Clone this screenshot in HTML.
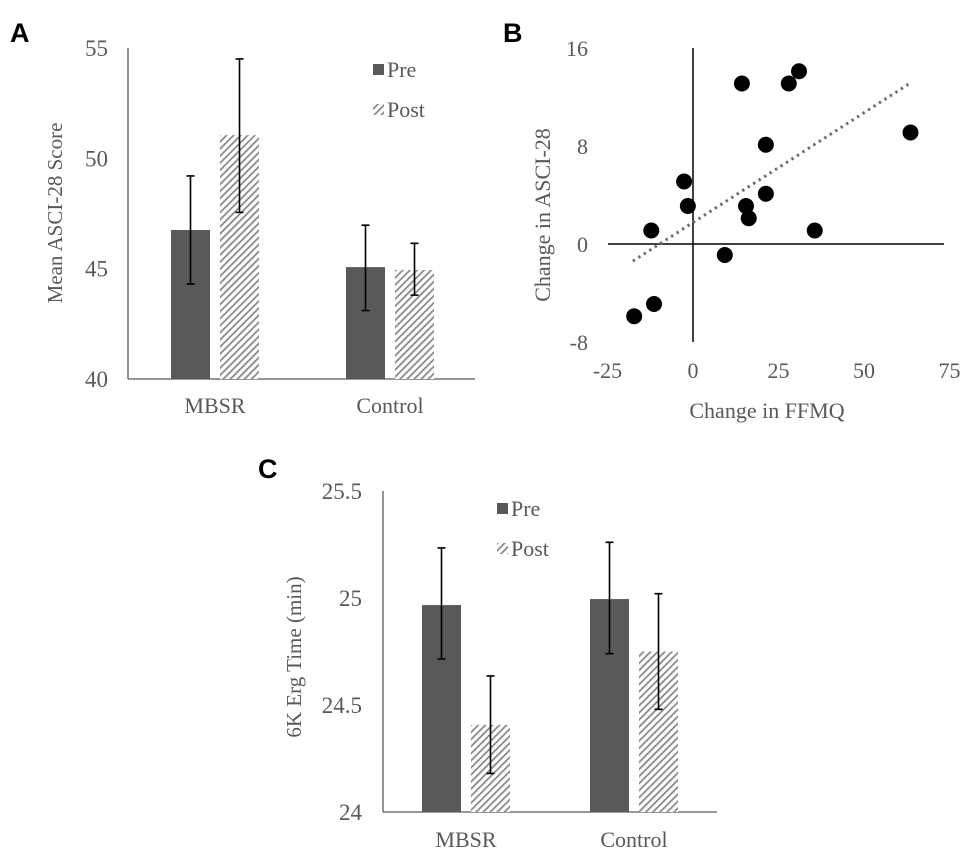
<!DOCTYPE html>
<html><head><meta charset="utf-8"><style>
body{margin:0;background:#fff;}
svg{display:block;}
text{font-family:"Liberation Serif",serif;fill:#595959;}
.lbl{font-family:"Liberation Sans",sans-serif;font-weight:bold;fill:#000;font-size:27px;}
</style></head><body>
<svg id="fig" width="975" height="867" viewBox="0 0 975 867">
<defs>
<pattern id="hatch" patternUnits="userSpaceOnUse" width="5" height="5" patternTransform="rotate(45)">
<rect width="5" height="5" fill="#fff"/><rect width="1.8" height="5" fill="#8a8a8a"/>
</pattern>
</defs>
<text class="lbl" x="10" y="42">A</text>
<text class="lbl" x="503" y="42">B</text>
<text class="lbl" x="258" y="478">C</text>
<g id="gA"></g>
<g id="gB"></g>
<g id="gC"></g>
</svg>
<script>
// Panel A data
const aCategories = ["MBSR", "Control"];
const aPre = [46.75, 45.07];
const aPost = [51.05, 44.94];
const aPreErrHi = [49.2, 46.97];
const aPreErrLo = [44.3, 43.1];
const aPostErrHi = [54.5, 46.15];
const aPostErrLo = [47.55, 43.8];
const aTicks = [40, 45, 50, 55];
// Panel B data
const bX = [14.3, 28, 31, 63.6, 21.3, -2.6, -1.5, 15.5, 16.3, 21.3, -12.2, 35.6, 9.3, -11.4, -17.2];
const bY = [13.1, 13.1, 14.1, 9.1, 8.1, 5.1, 3.1, 3.1, 2.1, 4.1, 1.1, 1.1, -0.9, -4.9, -5.9];
const bTrendX = [-17.6, 63.3];
const bTrendY = [-1.4, 13.1];
const bXTicks = [-25, 0, 25, 50, 75];
const bYTicks = [-8, 0, 8, 16];
// Panel C data
const cCategories = ["MBSR", "Control"];
const cPre = [24.967, 24.995];
const cPost = [24.407, 24.75];
const cPreErrHi = [25.234, 25.26];
const cPreErrLo = [24.715, 24.74];
const cPostErrHi = [24.636, 25.02];
const cPostErrLo = [24.18, 24.48];
const cTicks = [24, 24.5, 25, 25.5];
const cTickLabels = ["24", "24.5", "25", "25.5"];

const NS = "http://www.w3.org/2000/svg";
function mk(parent, tag, attrs, txt){
  const e = document.createElementNS(NS, tag);
  for (const k in attrs) e.setAttribute(k, attrs[k]);
  if (txt !== undefined) e.textContent = txt;
  parent.appendChild(e);
  return e;
}

function barChart(g, cfg){
  const y = v => cfg.y0 - (v - cfg.vmin) * cfg.k;
  let e;
  e = mk(g, "line", {x1:cfg.ax, y1:cfg.top, x2:cfg.ax, y2:cfg.y0, stroke:"#595959", "stroke-width":1.3});
  
  
  e = mk(g, "line", {x1:cfg.ax, y1:cfg.y0, x2:cfg.axEnd, y2:cfg.y0, stroke:"#595959", "stroke-width":1.3});
  
  
  cfg.ticks.forEach((t,i)=>{
    e = mk(g, "text", {x:cfg.tickX, y:y(t)+8, "text-anchor":"end", "font-size":23}, cfg.tickLabels[i]);
    
    
  });
  cfg.cats.forEach((c,i)=>{
    const cx = cfg.centers[i];
    const pairs = [[cfg.pre[i], cfg.preHi[i], cfg.preLo[i], cx-44, "#595959", "bar-pre-"+c.toLowerCase()],
                   [cfg.post[i], cfg.postHi[i], cfg.postLo[i], cx+5, "url(#hatch)", "bar-post-"+c.toLowerCase()]];
    pairs.forEach(p=>{
      e = mk(g, "rect", {x:p[3], y:y(p[0]), width:39, height:cfg.y0-y(p[0]), fill:p[4]});
      
      
      const ex = p[3]+19.5;
      e = mk(g, "path", {d:`M${ex},${y(p[1])}V${y(p[2])}M${ex-4},${y(p[1])}H${ex+4}M${ex-4},${y(p[2])}H${ex+4}`, stroke:"#000", "stroke-width":1.6, fill:"none"});
      
      
    });
    e = mk(g, "text", {x:cx, y:cfg.catY, "text-anchor":"middle", "font-size":22}, c);
    
    
  });
  e = mk(g, "rect", {x:cfg.legX, y:cfg.legY-6, width:11, height:11, fill:"#595959"});
  
  
  e = mk(g, "text", {x:cfg.legX+14, y:cfg.legY+7, "font-size":22}, "Pre");
  
  
  e = mk(g, "rect", {x:cfg.legX, y:cfg.legY+34, width:11, height:11, fill:"url(#hatch)"});
  
  
  e = mk(g, "text", {x:cfg.legX+14, y:cfg.legY+47, "font-size":22}, "Post");
  
  
  e = mk(g, "text", {x:0, y:0, "text-anchor":"middle", "font-size":21, transform:`translate(${cfg.titleX},${cfg.titleY}) rotate(-90)`}, cfg.title);
  
  
}

barChart(document.getElementById("gA"), {
  ax:128, axEnd:475, y0:379, top:48, vmin:40, k:22.07, ticks:aTicks, tickLabels:aTicks.map(String), tickX:108,
  cats:aCategories, centers:[215,390], pre:aPre, post:aPost, preHi:aPreErrHi, preLo:aPreErrLo, postHi:aPostErrHi, postLo:aPostErrLo,
  catY:413, legX:373, legY:70, title:"Mean  ASCI-28 Score", titleX:62, titleY:213
});
barChart(document.getElementById("gC"), {
  ax:383, axEnd:717, y0:812, top:491, vmin:24, k:214, ticks:cTicks, tickLabels:cTickLabels, tickX:362,
  cats:cCategories, centers:[466,634], pre:cPre, post:cPost, preHi:cPreErrHi, preLo:cPreErrLo, postHi:cPostErrHi, postLo:cPostErrLo,
  catY:847, legX:497, legY:509, title:"6K  Erg Time  (min)", titleX:301, titleY:657
});

// Panel B scatter
(function(){
  const g = document.getElementById("gB");
  const x = v => 693 + v * 3.42;
  const y = v => 244 - v * 12.25;
  let e;
  e = mk(g, "line", {x1:608, y1:y(0), x2:944, y2:y(0), stroke:"#000", "stroke-width":1.5});
  
  
  e = mk(g, "line", {x1:x(0), y1:y(16), x2:x(0), y2:y(-8), stroke:"#000", "stroke-width":1.5});
  
  
  bXTicks.forEach(t=>{
    e = mk(g, "text", {x:x(t), y:378, "text-anchor":"middle", "font-size":22}, String(t));
    
    
  });
  bYTicks.forEach(t=>{
    e = mk(g, "text", {x:588, y:y(t)+8, "text-anchor":"end", "font-size":22}, String(t));
    
    
  });
  e = mk(g, "line", {x1:x(bTrendX[0]), y1:y(bTrendY[0]), x2:x(bTrendX[1]), y2:y(bTrendY[1]), stroke:"#6f6f6f", "stroke-width":3, "stroke-dasharray":"2.5 4"});
  
  
  bX.forEach((v,i)=>{
    e = mk(g, "circle", {cx:x(v), cy:y(bY[i]), r:8, fill:"#000"});
    
    
  });
  e = mk(g, "text", {x:767, y:418, "text-anchor":"middle", "font-size":22}, "Change  in  FFMQ");
  
  
  e = mk(g, "text", {x:0, y:0, "text-anchor":"middle", "font-size":22, transform:"translate(550,215) rotate(-90)"}, "Change  in  ASCI-28");
  
  
})();
</script>
</body></html>
